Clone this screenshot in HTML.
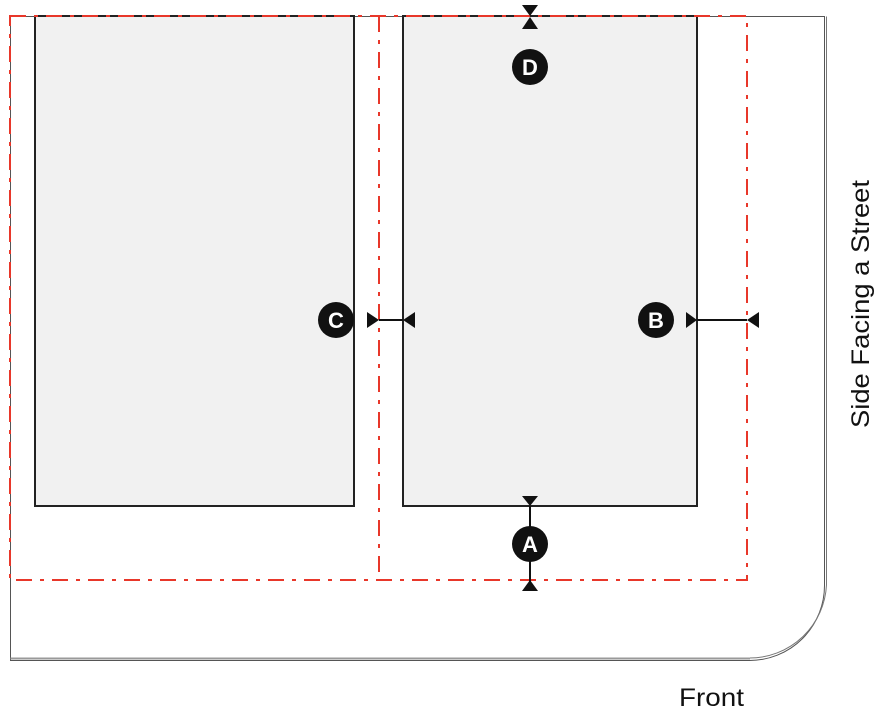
<!DOCTYPE html>
<html><head><style>body{margin:0;background:#fff}svg{display:block}</style></head><body>
<svg width="881" height="713" viewBox="0 0 881 713" xmlns="http://www.w3.org/2000/svg">
<g fill="none" stroke="#555" stroke-width="1">
<path d="M10.5 16.5 H824.5 V585 A75 75 0 0 1 749.5 660.5 H10.5 Z"/>
<path d="M826.5 16.5 V585 A77 77 0 0 1 749.5 658" stroke="#777"/>
<path d="M10.5 658.5 H750" stroke="#999" stroke-width="2"/>
</g>
<rect x="35" y="16" width="319" height="490" fill="#f1f1f1" stroke="#222" stroke-width="2"/>
<rect x="403" y="16" width="294" height="490" fill="#f1f1f1" stroke="#222" stroke-width="2"/>
<g fill="none" stroke="#e8372a" stroke-width="2" stroke-dasharray="16,8,4,8">
<rect x="10" y="16" width="737" height="564"/>
<path d="M379 16 V580"/>
</g>
<g stroke="#111" stroke-width="2" fill="#111">
<path d="M530 506 V590" />
<path d="M379 320 H403"/><path d="M697 320 H747"/>
</g>
<g fill="#111">
<path d="M522 496 H538 L530 506Z"/><path d="M522 591 H538 L530 580Z"/>
<path d="M522 5 H538 L530 16Z"/><path d="M522 29 H538 L530 17Z"/>
<path d="M367 312 V328 L379 320Z"/><path d="M415 312 V328 L403 320Z"/>
<path d="M686 312 V328 L697 320Z"/><path d="M759 312 V328 L747 320Z"/>
<circle cx="530" cy="544" r="18"/><circle cx="530" cy="67" r="18"/>
<circle cx="336" cy="320" r="18"/><circle cx="656" cy="320" r="18"/>
</g>
<g fill="#fff" font-family="Liberation Sans, sans-serif" font-weight="bold" font-size="22" text-anchor="middle">
<text x="530" y="552">A</text><text x="530" y="75">D</text>
<text x="336" y="328">C</text><text x="656" y="328">B</text>
</g>
<g fill="#111" font-family="Liberation Sans, sans-serif" font-size="25">
<text x="679" y="706" textLength="65" lengthAdjust="spacingAndGlyphs">Front</text>
<text transform="translate(869,428) rotate(-90)" textLength="248" lengthAdjust="spacingAndGlyphs">Side Facing a Street</text>
</g>
</svg>
</body></html>
